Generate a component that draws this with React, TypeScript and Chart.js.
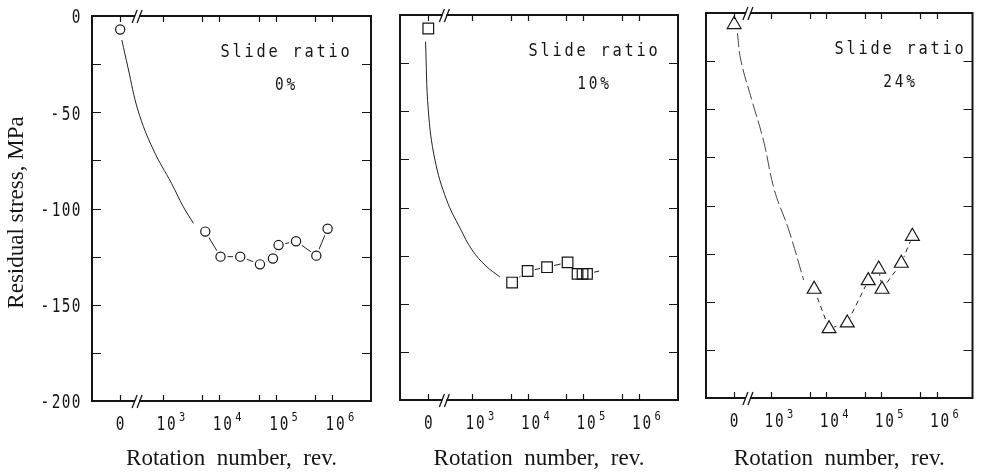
import React, { useEffect, useRef } from 'react';
import { Chart, registerables } from 'chart.js';

Chart.register(...registerables);

// ---------- axis / tick data ----------
// x is log10(rotation number); the "0 rev" point sits left of the axis break
const ZERO_POS = [2.24, 2.21, 2.33];
const BREAK_POS = [2.54, 2.5, 2.58];
const X_MIN = [1.74, 1.7, 1.82];
const X_MAX = [6.69, 6.71, 6.65];
const X_MAJOR = [3, 4, 5, 6];
const X_EXPONENTS = ['3', '4', '5', '6'];
const X_MINOR = [3.699, 4.699, 5.699];
const Y_TICKS = [0, -25, -50, -75, -100, -125, -150, -175, -200];
const Y_LABEL_VALUES = [0, -50, -100, -150, -200];
const Y_LABELS = ['0', '-50', '-100', '-150', '-200'];
const SLIDE_TEXT = 'Slide ratio';
const SLIDE_RATIOS = ['0%', '10%', '24%'];
const Y_TITLE = 'Residual stress, MPa';
const X_TITLE = 'Rotation  number,  rev.';

// ---------- series data (x = log10 rev, y = MPa) ----------
const p1X = [ZERO_POS[0], 3.75, 4.02, 4.37, 4.72, 4.95, 5.05, 5.36, 5.72, 5.92];
const p1Y = [-7, -112, -125, -125, -129, -126, -119, -117, -124.5, -110.5];
const p1CurveX = [2.27, 2.38, 2.56, 2.83, 3.15, 3.36, 3.54];
const p1CurveY = [-12.5, -27, -49.4, -69.6, -86.9, -99.1, -107.7];

const p2X = [ZERO_POS[1], 3.72, 4.0, 4.35, 4.72, 4.9, 4.99, 5.07];
const p2Y = [-7, -139, -133, -131, -128.5, -134.5, -134.5, -134.5];
const p2CurveX = [2.16, 2.21, 2.33, 2.54, 2.78, 3.0, 3.25, 3.5];
const p2CurveY = [-13.9, -49.4, -75.3, -96.1, -110.6, -122.1, -130.4, -136.1];
const p2TailX = [5.07, 5.29];
const p2TailY = [-134.5, -133];

const p3X = [ZERO_POS[2], 3.78, 4.05, 4.38, 4.76, 4.95, 5.01, 5.36, 5.56];
const p3Y = [-6, -143.5, -164, -161, -139, -133, -143.5, -130, -116];
const p3CurveX = [2.39, 2.45, 2.65, 2.86, 3.06, 3.32, 3.59];
const p3CurveY = [-10.5, -24.4, -45.2, -66, -92, -112.7, -138.7];

// ---------- layout (positions / styles) ----------
const LAYOUT = [
  { left: 0, width: 385, pad: { left: 92, right: 14, top: 16, bottom: 74 } },
  { left: 385, width: 305, pad: { left: 15, right: 12, top: 15, bottom: 75 } },
  { left: 690, width: 293, pad: { left: 16, right: 2, top: 13, bottom: 77 } },
];
const MONO = '"DejaVu Sans Mono", "Liberation Mono", monospace';
const SERIF = '"Liberation Serif", "Times New Roman", serif';
const INK = '#151515';

const pts = (xs: number[], ys: number[]) => xs.map((x, i) => ({ x, y: ys[i] }));

function drawChars(
  ctx: CanvasRenderingContext2D,
  text: string,
  x0: number,
  baseY: number,
  size: number,
  adv: number,
  minusAdv: number,
  sx: number
) {
  ctx.font = `${size}px ${MONO}`;
  ctx.textAlign = 'center';
  ctx.textBaseline = 'alphabetic';
  let x = x0;
  for (const c of text) {
    const a = c === '-' ? minusAdv : adv;
    if (c !== ' ') {
      ctx.save();
      ctx.translate(x + a / 2, baseY);
      ctx.scale(sx, 1);
      ctx.fillText(c, 0, 0);
      ctx.restore();
    }
    x += a;
  }
}
function charsWidth(text: string, adv: number, minusAdv: number) {
  let w = 0;
  for (const c of text) w += c === '-' ? minusAdv : adv;
  return w;
}

function decoPlugin(i: number) {
  return {
    id: 'deco' + i,
    afterDatasetsDraw(chart: any) {
      const { ctx, chartArea: a, scales } = chart;
      const xs = scales.x;
      const ys = scales.y;
      ctx.save();
      ctx.strokeStyle = INK;
      ctx.fillStyle = INK;
      // frame
      ctx.lineWidth = 2;
      ctx.strokeRect(a.left, a.top, a.right - a.left, a.bottom - a.top);
      // y ticks (inward, both sides)
      ctx.lineWidth = 1.2;
      ctx.beginPath();
      for (const v of Y_TICKS) {
        const py = Math.round(ys.getPixelForValue(v)) + 0.5;
        ctx.moveTo(a.left, py);
        ctx.lineTo(a.left + 9, py);
        ctx.moveTo(a.right, py);
        ctx.lineTo(a.right - 9, py);
      }
      // x ticks (inward, top & bottom)
      for (const v of [ZERO_POS[i], ...X_MAJOR, ...X_MINOR]) {
        const px = Math.round(xs.getPixelForValue(v)) + 0.5;
        ctx.moveTo(px, a.top);
        ctx.lineTo(px, a.top + 6);
        ctx.moveTo(px, a.bottom);
        ctx.lineTo(px, a.bottom - 6);
      }
      ctx.stroke();
      // axis break marks
      const bx = xs.getPixelForValue(BREAK_POS[i]);
      ctx.lineWidth = 1.3;
      for (const yy of [a.top, a.bottom]) {
        ctx.fillStyle = '#fff';
        ctx.fillRect(bx - 2, yy - 1.5, 4, 3);
        ctx.fillStyle = INK;
        ctx.beginPath();
        for (const dx of [-2.5, 2.5]) {
          ctx.moveTo(bx + dx - 2.5, yy + 7);
          ctx.lineTo(bx + dx + 2.5, yy - 6);
        }
        ctx.stroke();
      }
      // y tick labels + title (first panel only)
      if (i === 0) {
        Y_LABEL_VALUES.forEach((v, k) => {
          const py = ys.getPixelForValue(v);
          const t = Y_LABELS[k];
          const w = charsWidth(t, 10, 12.5);
          drawChars(ctx, t, a.left - 11 - w, py + 7.3, 20, 10, 12.5, 0.72);
        });
        ctx.save();
        ctx.translate(17, (a.top + a.bottom) / 2 + 4);
        ctx.rotate(-Math.PI / 2);
        ctx.font = `23px ${SERIF}`;
        ctx.textAlign = 'center';
        ctx.textBaseline = 'middle';
        ctx.fillText(Y_TITLE, 0, 0);
        ctx.restore();
      }
      // x tick labels
      const zx = xs.getPixelForValue(ZERO_POS[i]);
      drawChars(ctx, '0', zx - 5, a.bottom + 29, 20, 10, 12, 0.72);
      X_MAJOR.forEach((v, k) => {
        const px = xs.getPixelForValue(v);
        drawChars(ctx, '10', px - 7.5, a.bottom + 29, 20, 10.5, 12, 0.72);
        drawChars(ctx, X_EXPONENTS[k], px + 15, a.bottom + 19.5, 13, 8, 8, 0.8);
      });
      // x title
      ctx.font = `23px ${SERIF}`;
      ctx.textAlign = 'center';
      ctx.textBaseline = 'middle';
      ctx.fillText(X_TITLE, (a.left + a.right) / 2, 459);
      // annotation
      drawChars(ctx, SLIDE_TEXT, a.left + 127, a.top + 41, 17, 12, 12, 0.9);
      const pr = SLIDE_RATIOS[i];
      const pw = charsWidth(pr, 11.5, 11.5);
      drawChars(ctx, pr, a.left + 193 - pw / 2, a.top + 74, 17, 11.5, 11.5, 0.85);
      ctx.restore();
    },
  };
}

// markers: the first ("0 rev") point is joined to the rest only by the fitted curve
function markerSets(
  xs: number[],
  ys: number[],
  style: string,
  r: number,
  dash: number[]
) {
  const data = pts(xs, ys);
  return [
    {
      data: data.slice(1),
      showLine: true,
      borderColor: '#222',
      borderWidth: 1,
      borderDash: dash,
      pointRadius: 0,
      order: 3,
    },
    {
      data,
      showLine: false,
      pointStyle: style,
      pointRadius: r + 2.5,
      pointBackgroundColor: '#fff',
      pointBorderWidth: 0,
      order: 2,
    },
    {
      data,
      showLine: false,
      pointStyle: style,
      pointRadius: r,
      pointBackgroundColor: 'rgba(0,0,0,0)',
      pointBorderColor: INK,
      pointBorderWidth: 1.2,
      order: 1,
    },
  ];
}

function curveSet(xs: number[], ys: number[], dash: number[], color: string) {
  return {
    data: pts(xs, ys),
    showLine: true,
    borderColor: color,
    borderWidth: 1,
    borderDash: dash,
    pointRadius: 0,
    tension: 0.4,
    order: 4,
  };
}

function buildConfig(i: number): any {
  let datasets: any[] = [];
  if (i === 0) {
    datasets = [curveSet(p1CurveX, p1CurveY, [], '#222'), ...markerSets(p1X, p1Y, 'circle', 4.6, [])];
  } else if (i === 1) {
    datasets = [
      curveSet(p2CurveX, p2CurveY, [], '#222'),
      curveSet(p2TailX, p2TailY, [], '#222'),
      ...markerSets(p2X, p2Y, 'rect', 7.5, []),
    ];
  } else {
    datasets = [curveSet(p3CurveX, p3CurveY, [14, 4], '#444'), ...markerSets(p3X, p3Y, 'triangle', 8, [5, 4])];
  }
  return {
    type: 'scatter',
    data: { datasets },
    options: {
      responsive: false,
      animation: false,
      events: [],
      layout: { padding: LAYOUT[i].pad },
      plugins: { legend: { display: false }, tooltip: { enabled: false } },
      scales: {
        x: { type: 'linear', display: false, min: X_MIN[i], max: X_MAX[i] },
        y: { type: 'linear', display: false, min: -200, max: 0 },
      },
    },
    plugins: [decoPlugin(i)],
  };
}

export default function App() {
  const r0 = useRef<HTMLCanvasElement>(null);
  const r1 = useRef<HTMLCanvasElement>(null);
  const r2 = useRef<HTMLCanvasElement>(null);
  const refs = [r0, r1, r2];
  useEffect(() => {
    const charts = refs.map((r, i) => new Chart(r.current as HTMLCanvasElement, buildConfig(i)));
    return () => charts.forEach((c) => c.destroy());
  }, []);
  return (
    <div style={{ position: 'fixed', left: 0, top: 0, width: 983, height: 475, background: '#fff' }}>
      {LAYOUT.map((l, i) => (
        <canvas
          key={i}
          ref={refs[i]}
          width={l.width}
          height={475}
          style={{ position: 'absolute', left: l.left, top: 0, width: l.width, height: 475 }}
        />
      ))}
    </div>
  );
}
